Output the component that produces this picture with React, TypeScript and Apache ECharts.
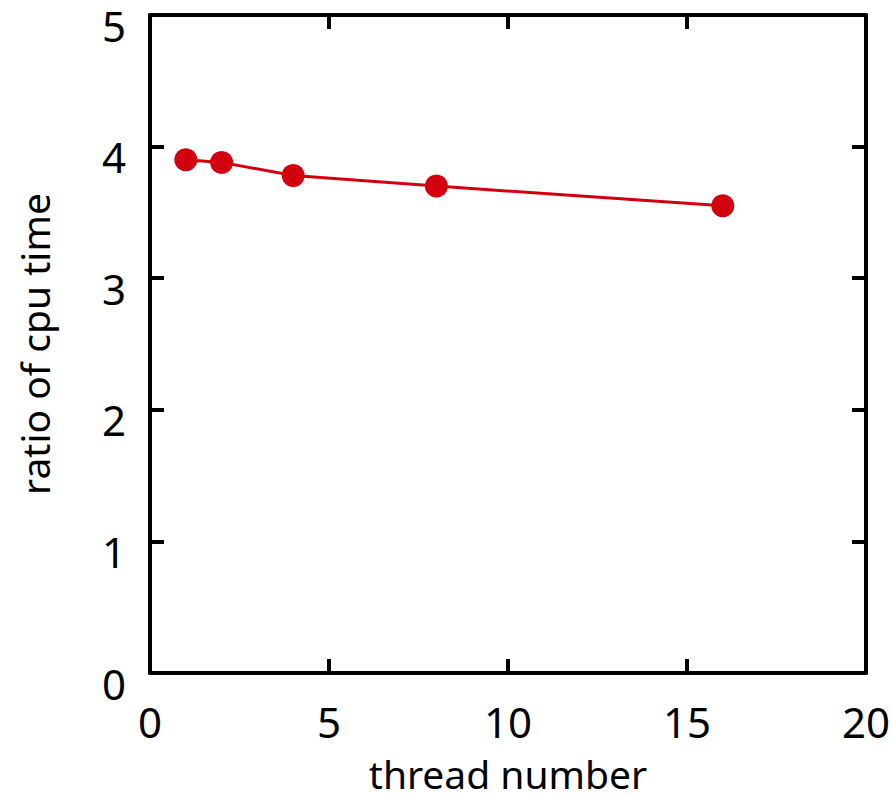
import React, { useEffect, useRef } from "react";
import * as echarts from "echarts";

const threads = [1, 2, 4, 8, 16];
const ratio = [3.9, 3.88, 3.78, 3.7, 3.55];
const xTicks = [0, 5, 10, 15, 20];
const yTicks = [0, 1, 2, 3, 4, 5];

const FONT = "'Noto Sans', 'Open Sans', sans-serif";
const RED = "#d2000f";

export default function App() {
  const ref = useRef<HTMLDivElement>(null);
  useEffect(() => {
    if (!ref.current) return;
    const chart = echarts.init(ref.current, null, { renderer: "svg" });
    const axisLine = { show: true, onZero: false, lineStyle: { color: "#000", width: 4 } };
    const axisTick = { show: true, inside: true, length: 14, lineStyle: { color: "#000", width: 4 } };
    chart.setOption({
      animation: false,
      backgroundColor: "#fff",
      grid: { left: 150, right: 25, top: 15, bottom: 115, containLabel: false },
      xAxis: [
        {
          type: "value",
          position: "bottom",
          min: xTicks[0],
          max: xTicks[xTicks.length - 1],
          interval: 5,
          name: "thread number",
          nameLocation: "middle",
          nameGap: 80,
          nameTextStyle: { fontFamily: FONT, fontSize: 39, lineHeight: 40, color: "#000" },
          axisLine,
          axisTick,
          axisLabel: { fontFamily: FONT, fontSize: 42, lineHeight: 42, color: "#000", margin: 27 },
          splitLine: { show: false },
        },
        {
          type: "value",
          position: "top",
          min: xTicks[0],
          max: xTicks[xTicks.length - 1],
          interval: 5,
          axisLine,
          axisTick,
          axisLabel: { show: false },
          splitLine: { show: false },
        },
      ],
      yAxis: [
        {
          type: "value",
          position: "left",
          min: yTicks[0],
          max: yTicks[yTicks.length - 1],
          interval: 1,
          name: "ratio of cpu time",
          nameLocation: "middle",
          nameGap: 96,
          nameTextStyle: { fontFamily: FONT, fontSize: 39, lineHeight: 40, color: "#000" },
          axisLine,
          axisTick,
          axisLabel: {
            fontFamily: FONT,
            fontSize: 42,
            color: "#000",
            margin: 24,
            verticalAlign: "top",
            lineHeight: 20,
          },
          splitLine: { show: false },
        },
        {
          type: "value",
          position: "right",
          min: yTicks[0],
          max: yTicks[yTicks.length - 1],
          interval: 1,
          axisLine,
          axisTick,
          axisLabel: { show: false },
          splitLine: { show: false },
        },
      ],
      series: [
        {
          type: "line",
          data: threads.map((t, i) => [t, ratio[i]]),
          symbol: "circle",
          symbolSize: 23,
          lineStyle: { color: RED, width: 3 },
          itemStyle: { color: RED },
        },
      ],
    });
    return () => chart.dispose();
  }, []);
  return (
    <div
      ref={ref}
      style={{ position: "fixed", left: 0, top: 0, width: 893, height: 798 }}
    />
  );
}
